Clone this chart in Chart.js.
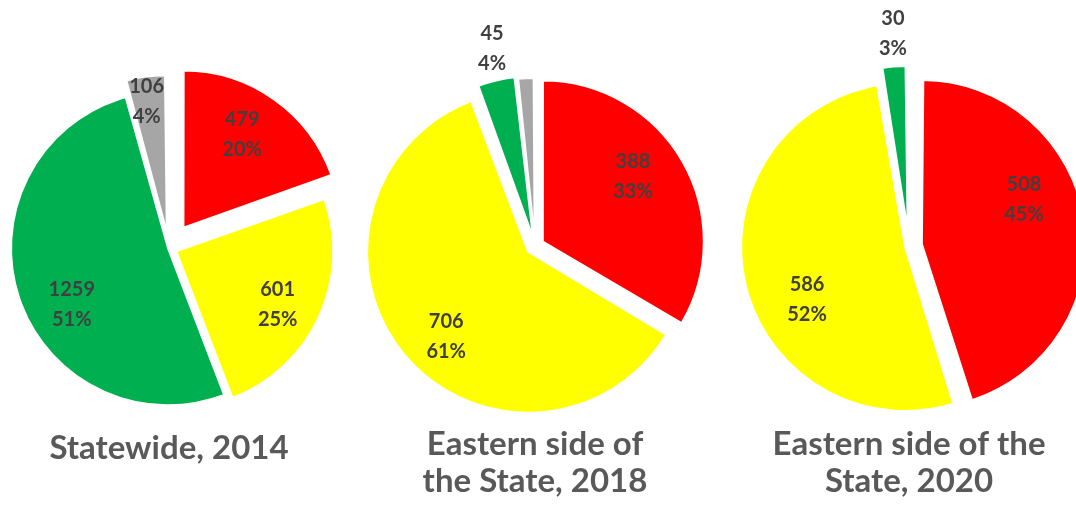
<!DOCTYPE html>
<html>
<head>
<meta charset="utf-8">
<title>Pie charts</title>
<script src="https://cdn.jsdelivr.net/npm/chart.js@4.4.1/dist/chart.umd.min.js"></script>
<style>
  html, body { margin: 0; padding: 0; background: #ffffff; }
  body { position: relative; width: 1076px; height: 512px; overflow: hidden; }
  canvas { position: absolute; top: 0; }
</style>
</head>
<body>
<canvas id="pie2014" width="360" height="512" style="left:-11px"></canvas>
<canvas id="pie2018" width="360" height="512" style="left:355px"></canvas>
<canvas id="pie2020" width="360" height="512" style="left:729px"></canvas>
<script>
const categories = ["Red", "Yellow", "Green", "Gray"];
const counts2014 = [479, 601, 1259, 106];
const counts2018 = [388, 706, 45, 20];
const counts2020 = [508, 586, 30];

const title2014 = ["Statewide, 2014"];
const title2018 = ["Eastern side of", "the State, 2018"];
const title2020 = ["Eastern side of the", "State, 2020"];

const sliceColors = ["#FF0000", "#FFFF00", "#00B050", "#A6A6A6"];

// value + percent labels, placed relative to each (exploded) slice
const sliceLabels = {
  id: "sliceLabels",
  beforeDatasetsDraw(chart) {
    // chart.js grows thin exploded slices; pull them back to the common radius
    const meta = chart.getDatasetMeta(0);
    const R = meta.controller.outerRadius;
    meta.data.forEach(arc => {
      const fix = 1 - Math.sin(Math.min(Math.PI, arc.circumference || 0));
      arc.outerRadius = R - (arc.options.offset || 0) / 4 * fix;
    });
  },
  afterDatasetsDraw(chart, args, opts) {
    const ctx = chart.ctx;
    const meta = chart.getDatasetMeta(0);
    const values = chart.data.datasets[0].data;
    const total = values.reduce((a, b) => a + b, 0);
    const R = meta.controller.outerRadius;

    ctx.save();
    ctx.font = "bold 20px Lato";
    ctx.fillStyle = "#404040";
    ctx.textAlign = "center";
    ctx.textBaseline = "middle";
    meta.data.forEach((arc, i) => {
      const place = opts.place[i];
      if (!place) return;
      const mid = (arc.startAngle + arc.endAngle) / 2;
      const shift = (arc.options.offset || 0) / 4;
      const cx = arc.x + Math.cos(mid) * shift;
      const cy = arc.y + Math.sin(mid) * shift;
      const a = mid + place.turn * Math.PI / 180;
      const x = cx + Math.cos(a) * R * place.dist;
      const y = cy + Math.sin(a) * R * place.dist;
      const pct = Math.round(values[i] / total * 100) + "%";
      ctx.fillText(String(values[i]), x, y - 15);
      ctx.fillText(pct, x, y + 15);
    });
    ctx.restore();
  }
};

function makePie(id, counts, title, radius, explode, place, padding) {
  return new Chart(document.getElementById(id), {
    type: "pie",
    data: {
      labels: categories.slice(0, counts.length),
      datasets: [{
        data: counts,
        backgroundColor: sliceColors.slice(0, counts.length),
        borderColor: "#ffffff",
        borderWidth: 2,
        offset: explode,
        clip: false
      }]
    },
    options: {
      responsive: false,
      animation: false,
      events: [],
      radius: radius,
      layout: { padding: padding },
      plugins: {
        legend: { display: false },
        tooltip: { enabled: false },
        title: {
          display: true,
          position: "bottom",
          text: title,
          color: "#595959",
          padding: 0,
          font: { family: "Lato", size: 33, weight: "bold", lineHeight: 1.14 }
        },
        sliceLabels: { place: place }
      }
    },
    plugins: [sliceLabels]
  });
}

makePie("pie2014", counts2014, title2014, 157,
  [100, 32, 4, 64],
  [{ dist: 0.70, turn: -3 }, { dist: 0.73, turn: 3 }, { dist: 0.71, turn: -12 }, { dist: 0.84, turn: -1 }],
  { top: 66.8, bottom: 45.2 });

makePie("pie2018", counts2018, title2018, 161,
  [36, 36, 36, 28],
  [{ dist: 0.69, turn: -6 }, { dist: 0.73, turn: -6 }, { dist: 1.2, turn: 1 }, null],
  { top: 66.8, bottom: 11.6 });

makePie("pie2020", counts2020, title2020, 164,
  [52, 16, 64],
  [{ dist: 0.68, turn: -15 }, { dist: 0.68, turn: -15 }, { dist: 1.2, turn: 0.5 }],
  { top: 66.8, bottom: 11.6 });
</script>
</body>
</html>
